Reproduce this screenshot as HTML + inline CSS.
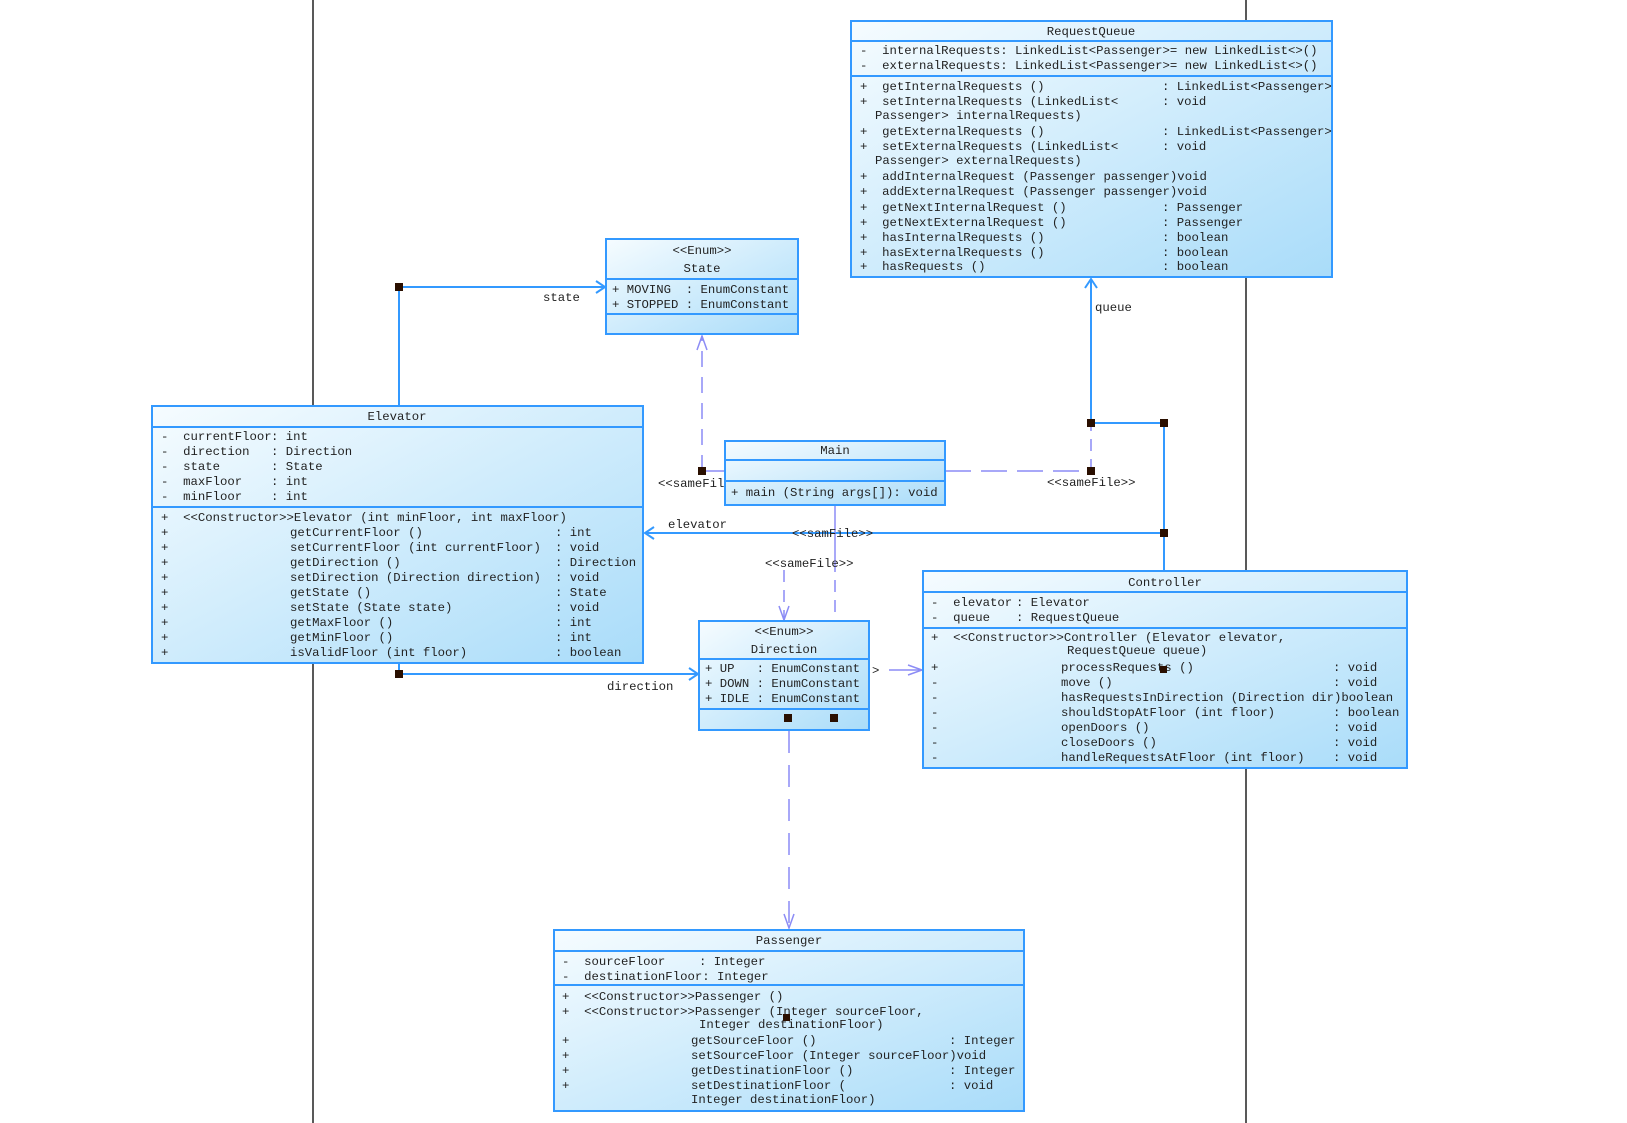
<!DOCTYPE html>
<html><head><meta charset="utf-8"><style>
html,body{margin:0;padding:0;background:#fff;width:1627px;height:1123px;overflow:hidden}
svg text{font-family:"Liberation Mono",monospace;font-size:12.3px;fill:#222;white-space:pre}
</style></head><body>
<svg width="1627" height="1123" xmlns="http://www.w3.org/2000/svg">
<defs>
<linearGradient id="g" x1="0" y1="0" x2="1" y2="1">
<stop offset="0" stop-color="#f6fcff"/><stop offset="1" stop-color="#a9dcf9"/>
</linearGradient>
</defs>
<line x1="313" y1="0" x2="313" y2="1123" stroke="#222" stroke-width="1.5"/>
<line x1="1246" y1="0" x2="1246" y2="1123" stroke="#222" stroke-width="1.5"/>

<!-- connectors -->
<g fill="none" stroke="#3399ff" stroke-width="2">
<polyline points="399,406 399,287 605,287"/>
<polyline points="596,281 605,287 596,293"/>
<polyline points="1091,423 1091,279"/>
<polyline points="1085,288 1091,279 1097,288"/>
<polyline points="1091,423 1164,423 1164,571"/>
<polyline points="1164,533 645,533"/>
<polyline points="654,527 645,533 654,539"/>
<polyline points="399,663 399,674 698,674"/>
<polyline points="689,668 698,674 689,680"/>
</g>
<g fill="none" stroke="#8c8cf5" stroke-width="1.5">
<line x1="702" y1="471" x2="725" y2="471"/>
<line x1="702" y1="471" x2="702" y2="336" stroke-dasharray="16,10"/>
<polyline points="697,350 702,336 707,350"/>
<line x1="945" y1="471" x2="1091" y2="471" stroke-dasharray="26,10"/>
<line x1="1091" y1="471" x2="1091" y2="423" stroke-dasharray="12,8"/>
<line x1="835" y1="505" x2="835" y2="560"/>
<line x1="835" y1="560" x2="835" y2="621" stroke-dasharray="12,8"/>
<line x1="784" y1="570" x2="784" y2="620" stroke-dasharray="12,8"/>
<polyline points="779,606 784,620 789,606"/>
<line x1="889" y1="670" x2="922" y2="670"/>
<polyline points="908,665 922,670 908,675"/>
<line x1="789" y1="731" x2="789" y2="928" stroke-dasharray="22,12"/>
<polyline points="784,914 789,928 794,914"/>
</g>
<g fill="#2a0f00">
<rect x="395" y="283" width="8" height="8"/>
<rect x="698" y="467" width="8" height="8"/>
<rect x="1087" y="419" width="8" height="8"/>
<rect x="1087" y="467" width="8" height="8"/>
<rect x="1160" y="419" width="8" height="8"/>
<rect x="1160" y="529" width="8" height="8"/>
<rect x="395" y="670" width="8" height="8"/>
<rect x="784" y="714" width="8" height="8"/>
<rect x="830" y="714" width="8" height="8"/>
</g>
<text x="543" y="301">state</text>
<text x="1095" y="311">queue</text>
<text x="668" y="528">elevator</text>
<text x="658" y="487">&lt;&lt;sameFil</text>
<text x="1047" y="486">&lt;&lt;sameFile&gt;&gt;</text>
<text x="792" y="537">&lt;&lt;samFile&gt;&gt;</text>
<text x="765" y="567">&lt;&lt;sameFile&gt;&gt;</text>
<text x="607" y="690">direction</text>
<text x="872" y="674">&gt;</text>

<!-- RequestQueue -->
<rect x="851" y="21" width="481" height="256" fill="url(#g)" stroke="#3399ff" stroke-width="2"/>
<line x1="851" y1="41" x2="1332" y2="41" stroke="#3399ff" stroke-width="2"/>
<line x1="851" y1="76" x2="1332" y2="76" stroke="#3399ff" stroke-width="2"/>
<text x="1091" y="35" text-anchor="middle">RequestQueue</text>
<text x="860" y="54">-  internalRequests: LinkedList&lt;Passenger&gt;= new LinkedList&lt;&gt;()</text>
<text x="860" y="69">-  externalRequests: LinkedList&lt;Passenger&gt;= new LinkedList&lt;&gt;()</text>
<g>
<text x="860" y="90">+  getInternalRequests ()</text><text x="1162" y="90">: LinkedList&lt;Passenger&gt;</text>
<text x="860" y="105">+  setInternalRequests (LinkedList&lt;</text><text x="1162" y="105">: void</text>
<text x="875" y="119">Passenger&gt; internalRequests)</text>
<text x="860" y="135">+  getExternalRequests ()</text><text x="1162" y="135">: LinkedList&lt;Passenger&gt;</text>
<text x="860" y="150">+  setExternalRequests (LinkedList&lt;</text><text x="1162" y="150">: void</text>
<text x="875" y="164">Passenger&gt; externalRequests)</text>
<text x="860" y="180">+  addInternalRequest (Passenger passenger)void</text>
<text x="860" y="195">+  addExternalRequest (Passenger passenger)void</text>
<text x="860" y="211">+  getNextInternalRequest ()</text><text x="1162" y="211">: Passenger</text>
<text x="860" y="226">+  getNextExternalRequest ()</text><text x="1162" y="226">: Passenger</text>
<text x="860" y="241">+  hasInternalRequests ()</text><text x="1162" y="241">: boolean</text>
<text x="860" y="256">+  hasExternalRequests ()</text><text x="1162" y="256">: boolean</text>
<text x="860" y="270">+  hasRequests ()</text><text x="1162" y="270">: boolean</text>
</g>

<!-- State -->
<rect x="606" y="239" width="192" height="95" fill="url(#g)" stroke="#3399ff" stroke-width="2"/>
<line x1="606" y1="279" x2="798" y2="279" stroke="#3399ff" stroke-width="2"/>
<line x1="606" y1="314" x2="798" y2="314" stroke="#3399ff" stroke-width="2"/>
<text x="702" y="254" text-anchor="middle">&lt;&lt;Enum&gt;&gt;</text>
<text x="702" y="272" text-anchor="middle">State</text>
<text x="612" y="293">+ MOVING  : EnumConstant</text>
<text x="612" y="308">+ STOPPED : EnumConstant</text>

<!-- Main -->
<rect x="725" y="441" width="220" height="64" fill="url(#g)" stroke="#3399ff" stroke-width="2"/>
<line x1="725" y1="460" x2="945" y2="460" stroke="#3399ff" stroke-width="2"/>
<line x1="725" y1="481" x2="945" y2="481" stroke="#3399ff" stroke-width="2"/>
<text x="835" y="454" text-anchor="middle">Main</text>
<text x="731" y="496">+ main (String args[]): void</text>

<!-- Elevator -->
<rect x="152" y="406" width="491" height="257" fill="url(#g)" stroke="#3399ff" stroke-width="2"/>
<line x1="152" y1="427" x2="643" y2="427" stroke="#3399ff" stroke-width="2"/>
<line x1="152" y1="507" x2="643" y2="507" stroke="#3399ff" stroke-width="2"/>
<text x="397" y="420" text-anchor="middle">Elevator</text>
<text x="161" y="440">-  currentFloor</text><text x="271" y="440">: int</text>
<text x="161" y="455">-  direction</text><text x="271" y="455">: Direction</text>
<text x="161" y="470">-  state</text><text x="271" y="470">: State</text>
<text x="161" y="485">-  maxFloor</text><text x="271" y="485">: int</text>
<text x="161" y="500">-  minFloor</text><text x="271" y="500">: int</text>
<text x="161" y="521">+  &lt;&lt;Constructor&gt;&gt;Elevator (int minFloor, int maxFloor)</text>
<g>
<text x="161" y="536">+</text><text x="290" y="536">getCurrentFloor ()</text><text x="555" y="536">: int</text>
<text x="161" y="551">+</text><text x="290" y="551">setCurrentFloor (int currentFloor)</text><text x="555" y="551">: void</text>
<text x="161" y="566">+</text><text x="290" y="566">getDirection ()</text><text x="555" y="566">: Direction</text>
<text x="161" y="581">+</text><text x="290" y="581">setDirection (Direction direction)</text><text x="555" y="581">: void</text>
<text x="161" y="596">+</text><text x="290" y="596">getState ()</text><text x="555" y="596">: State</text>
<text x="161" y="611">+</text><text x="290" y="611">setState (State state)</text><text x="555" y="611">: void</text>
<text x="161" y="626">+</text><text x="290" y="626">getMaxFloor ()</text><text x="555" y="626">: int</text>
<text x="161" y="641">+</text><text x="290" y="641">getMinFloor ()</text><text x="555" y="641">: int</text>
<text x="161" y="656">+</text><text x="290" y="656">isValidFloor (int floor)</text><text x="555" y="656">: boolean</text>
</g>

<!-- Direction -->
<rect x="699" y="621" width="170" height="109" fill="url(#g)" stroke="#3399ff" stroke-width="2"/>
<line x1="699" y1="659" x2="869" y2="659" stroke="#3399ff" stroke-width="2"/>
<line x1="699" y1="709" x2="869" y2="709" stroke="#3399ff" stroke-width="2"/>
<text x="784" y="635" text-anchor="middle">&lt;&lt;Enum&gt;&gt;</text>
<text x="784" y="653" text-anchor="middle">Direction</text>
<text x="705" y="672">+ UP   : EnumConstant</text>
<text x="705" y="687">+ DOWN : EnumConstant</text>
<text x="705" y="702">+ IDLE : EnumConstant</text>
<g fill="#2a0f00"><rect x="784" y="714" width="8" height="8"/><rect x="830" y="714" width="8" height="8"/></g>

<!-- Controller -->
<rect x="923" y="571" width="484" height="197" fill="url(#g)" stroke="#3399ff" stroke-width="2"/>
<line x1="923" y1="592" x2="1407" y2="592" stroke="#3399ff" stroke-width="2"/>
<line x1="923" y1="628" x2="1407" y2="628" stroke="#3399ff" stroke-width="2"/>
<text x="1165" y="586" text-anchor="middle">Controller</text>
<text x="931" y="606">-  elevator</text><text x="1016" y="606">: Elevator</text>
<text x="931" y="621">-  queue</text><text x="1016" y="621">: RequestQueue</text>
<text x="931" y="641">+  &lt;&lt;Constructor&gt;&gt;Controller (Elevator elevator,</text>
<text x="1067" y="654">RequestQueue queue)</text>
<g>
<text x="931" y="671">+</text><text x="1061" y="671">processRequests ()</text><text x="1333" y="671">: void</text>
<text x="931" y="686">-</text><text x="1061" y="686">move ()</text><text x="1333" y="686">: void</text>
<text x="931" y="701">-</text><text x="1061" y="701">hasRequestsInDirection (Direction dir)boolean</text>
<text x="931" y="716">-</text><text x="1061" y="716">shouldStopAtFloor (int floor)</text><text x="1333" y="716">: boolean</text>
<text x="931" y="731">-</text><text x="1061" y="731">openDoors ()</text><text x="1333" y="731">: void</text>
<text x="931" y="746">-</text><text x="1061" y="746">closeDoors ()</text><text x="1333" y="746">: void</text>
<text x="931" y="761">-</text><text x="1061" y="761">handleRequestsAtFloor (int floor)</text><text x="1333" y="761">: void</text>
</g>
<rect x="1160" y="666" width="7" height="7" fill="#2a0f00"/>

<!-- Passenger -->
<rect x="554" y="930" width="470" height="181" fill="url(#g)" stroke="#3399ff" stroke-width="2"/>
<line x1="554" y1="951" x2="1024" y2="951" stroke="#3399ff" stroke-width="2"/>
<line x1="554" y1="985" x2="1024" y2="985" stroke="#3399ff" stroke-width="2"/>
<text x="789" y="944" text-anchor="middle">Passenger</text>
<text x="562" y="965">-  sourceFloor</text><text x="699" y="965">: Integer</text>
<text x="562" y="980">-  destinationFloor: Integer</text>
<text x="562" y="1000">+  &lt;&lt;Constructor&gt;&gt;Passenger ()</text>
<text x="562" y="1015">+  &lt;&lt;Constructor&gt;&gt;Passenger (Integer sourceFloor,</text>
<text x="699" y="1028">Integer destinationFloor)</text>
<g>
<text x="562" y="1044">+</text><text x="691" y="1044">getSourceFloor ()</text><text x="949" y="1044">: Integer</text>
<text x="562" y="1059">+</text><text x="691" y="1059">setSourceFloor (Integer sourceFloor)void</text>
<text x="562" y="1074">+</text><text x="691" y="1074">getDestinationFloor ()</text><text x="949" y="1074">: Integer</text>
<text x="562" y="1089">+</text><text x="691" y="1089">setDestinationFloor (</text><text x="949" y="1089">: void</text>
<text x="691" y="1103">Integer destinationFloor)</text>
</g>
<rect x="783" y="1014" width="7" height="7" fill="#2a0f00"/>
</svg>
</body></html>
